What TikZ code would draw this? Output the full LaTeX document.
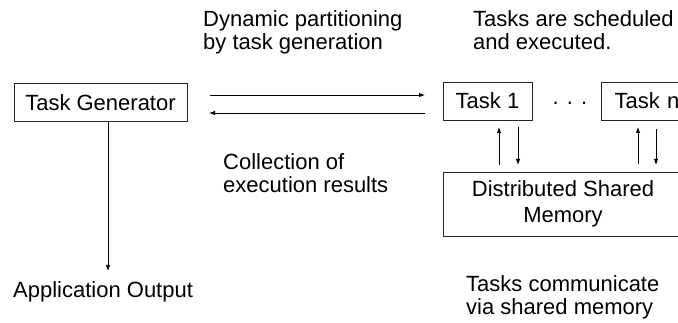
\documentclass[tikz,border=0pt]{standalone}
\usepackage{fontspec}
\setmainfont{Liberation Sans}
\usetikzlibrary{arrows.meta}
\begin{document}
\begin{tikzpicture}[x=1pt,y=-1pt,
  every node/.style={font=\fontsize{22}{23.5}\selectfont},
  box/.style={draw=black!85, line width=0.9pt, inner sep=0pt},
  lbl/.style={inner sep=0pt, anchor=base west, align=left},
  arr/.style={line width=0.9pt, -{Latex[length=6pt,width=4.5pt]}}]
\clip (0,0) rectangle (678,323);
\fill[white] (0,0) rectangle (678,323);
% boxes
\node[box, minimum width=173pt, minimum height=38pt] (tg) at (100.5,102.5) {Task Generator};
\node[box, minimum width=89pt, minimum height=38pt] (t1) at (487.5,101) {Task 1};
\node[box, minimum width=89pt, minimum height=38pt, text width=80pt, align=left] (tn) at (645.5,101) {\hspace*{9pt}Task n};
\node[box, minimum width=240pt, minimum height=64pt, align=center] (dsm) at (563,204) {Distributed Shared\\[2pt]Memory};
\node[inner sep=0pt] (dots) at (570,103) {. . .};
% labels (base = baseline of last line)
\node[lbl] (l1) at (203,50) {Dynamic partitioning\\by task generation};
\node[lbl] (l2) at (473,50) {Tasks are scheduled\\and executed.};
\node[lbl] (l3) at (223,193) {Collection of\\execution results};
\node[lbl] (l4) at (466,315) {Tasks communicate\\via shared memory};
\node[lbl] (out) at (13,298) {Application Output};
% connector end points
\coordinate (a1s) at (210,95);  \coordinate (a1e) at (425,95);
\coordinate (a2s) at (425,113); \coordinate (a2e) at (209,113);
\coordinate (u1s) at (499,165); \coordinate (u1e) at (499,127);
\coordinate (d1s) at (518,127); \coordinate (d1e) at (518,165);
\coordinate (u2s) at (638,164); \coordinate (u2e) at (638,127);
\coordinate (d2s) at (656,129); \coordinate (d2e) at (656,165);
\coordinate (oe) at (108,271);
% connectors
\draw[arr] (a1s) -- (a1e);
\draw[arr] (a2s) -- (a2e);
\draw[arr] (u1s) -- (u1e);
\draw[arr] (d1s) -- (d1e);
\draw[arr] (u2s) -- (u2e);
\draw[arr] (d2s) -- (d2e);
\draw[arr] (tg.south -| oe) -- (oe);
\end{tikzpicture}
\end{document}
